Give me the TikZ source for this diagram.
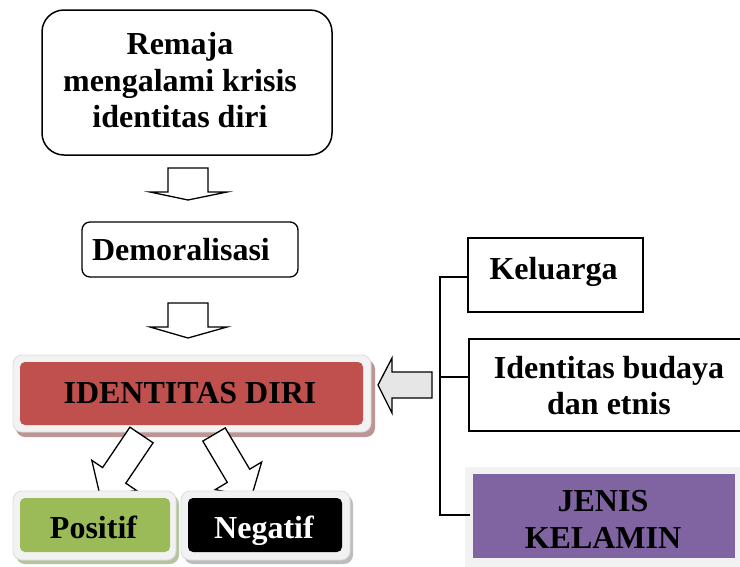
\documentclass[tikz,border=0pt]{standalone}
\usepackage{fontspec}
\setmainfont{Liberation Serif}
\definecolor{idred}{HTML}{C0504D}
\definecolor{idgreen}{HTML}{9BBB59}
\definecolor{idpurple}{HTML}{8064A2}
\definecolor{framegray}{HTML}{F2F2F2}
\definecolor{frameline}{HTML}{DCDCDC}
\definecolor{redshadow}{HTML}{BC9594}
\definecolor{greenshadow}{HTML}{B7C59F}
\definecolor{grayshadow}{HTML}{BDBDBD}
\definecolor{arrowgray}{HTML}{E6E6E6}
\begin{document}
\begin{tikzpicture}[x=1pt,y=-1pt,
  font=\fontsize{32}{36.5}\selectfont\bfseries,
  txt/.style={inner sep=0pt, align=center},
  plainbox/.style={draw, line width=1.5pt, inner sep=0pt},
  blockarrow/.style={draw, line width=1.3pt, fill=white, line join=miter},
  glowframe/.style={fill=framegray, draw=frameline, line width=0.8pt, rounded corners=9pt, inner sep=0pt},
  glowinner/.style={rounded corners=5pt, inner sep=0pt}]
\useasboundingbox (0,0) rectangle (740,566);

% top box
\node[plainbox, rounded corners=22pt, minimum width=290pt, minimum height=145pt] (krisis) at (187,82.5) {};
\node[txt] (krisisT) at (180,80.5) {Remaja\\mengalami krisis\\identitas diri};

% arrow 1
\draw[blockarrow] (168,168) -- (208,168) -- (208,192) -- (227,192) -- (188,200) -- (150,192) -- (168,192) -- cycle;

% Demoralisasi
\node[plainbox, line width=1.3pt, rounded corners=8pt, minimum width=216pt, minimum height=55pt] (demo) at (190,249.5) {};
\node[txt, anchor=base] (demoT) at (181,260) {Demoralisasi};

% arrow 2
\draw[blockarrow] (168,303) -- (208,303) -- (208,327) -- (227,327) -- (188,338) -- (150,327) -- (168,327) -- cycle;

% IDENTITAS DIRI
\fill[redshadow, rounded corners=9pt] (16,360) rectangle (375,437);
\node[glowframe, minimum width=358pt, minimum height=77pt] (idframe) at (192,393.5) {};
\node[glowinner, fill=idred, minimum width=343pt, minimum height=63pt] (ident) at (191.5,393.5) {};
\node[txt, anchor=base] (identT) at (190,403) {IDENTITAS DIRI};

% left arrow
\draw[line width=1.3pt, fill=arrowgray, line join=miter] (432,372) -- (432,398) -- (392,398) -- (392,413) -- (378,385) -- (392,358) -- (392,372) -- cycle;

% right boxes
\node[plainbox, minimum width=175pt, minimum height=74pt] (kel) at (555.5,275) {};
\node[txt, anchor=base] (kelT) at (553.5,279) {Keluarga};
\node[plainbox, minimum width=280pt, minimum height=92pt, anchor=north west] (bud) at (468,338) {};
\node[txt] (budT) at (609,385.5) {Identitas budaya\\dan etnis};
\fill[framegray] (465,467) rectangle (745,570);
\node[inner sep=0pt, fill=idpurple, minimum width=262pt, minimum height=84pt] (jen) at (604,516) {};
\node[txt] (jenT) at (603,519.5) {\fontsize{32}{35}\selectfont JENIS\\KELAMIN};

% tree connectors
\coordinate (tTop) at (440,277);
\coordinate (tMid) at (440,377);
\coordinate (tBot) at (440,515);
\draw[line width=1.5pt] (kel.west |- tTop) -- (tTop) -- (tBot) -- (470,515);
\draw[line width=1.5pt] (tMid) -- (bud.west |- tMid);

% diagonal arrows
\draw[blockarrow] (129.9,427.2) -- (153.1,442.8) -- (125.8,483.2) -- (136.6,490.5) -- (100.2,496.2) -- (91.8,460.3) -- (102.6,467.6) -- cycle;
\draw[blockarrow] (225.2,427.9) -- (249.7,469.2) -- (261.7,462) -- (251.3,497.3) -- (215.3,489.6) -- (227.3,482.4) -- (202.8,441.1) -- cycle;

% Positif
\fill[greenshadow, rounded corners=9pt] (16,495) rectangle (179,564);
\node[glowframe, minimum width=163pt, minimum height=69pt] (posframe) at (94.5,525.5) {};
\node[glowinner, fill=idgreen, minimum width=150pt, minimum height=54pt] (pos) at (95,525) {};
\node[txt, anchor=base] (posT) at (93.5,538) {Positif};

% Negatif
\fill[grayshadow, rounded corners=9pt] (184,495) rectangle (353,564);
\node[glowframe, minimum width=169pt, minimum height=69pt] (negframe) at (265.5,525.5) {};
\node[glowinner, fill=black, minimum width=154pt, minimum height=54pt] (neg) at (265,525) {};
\node[txt, anchor=base, text=white] (negT) at (264,538) {Negatif};
\end{tikzpicture}
\end{document}
